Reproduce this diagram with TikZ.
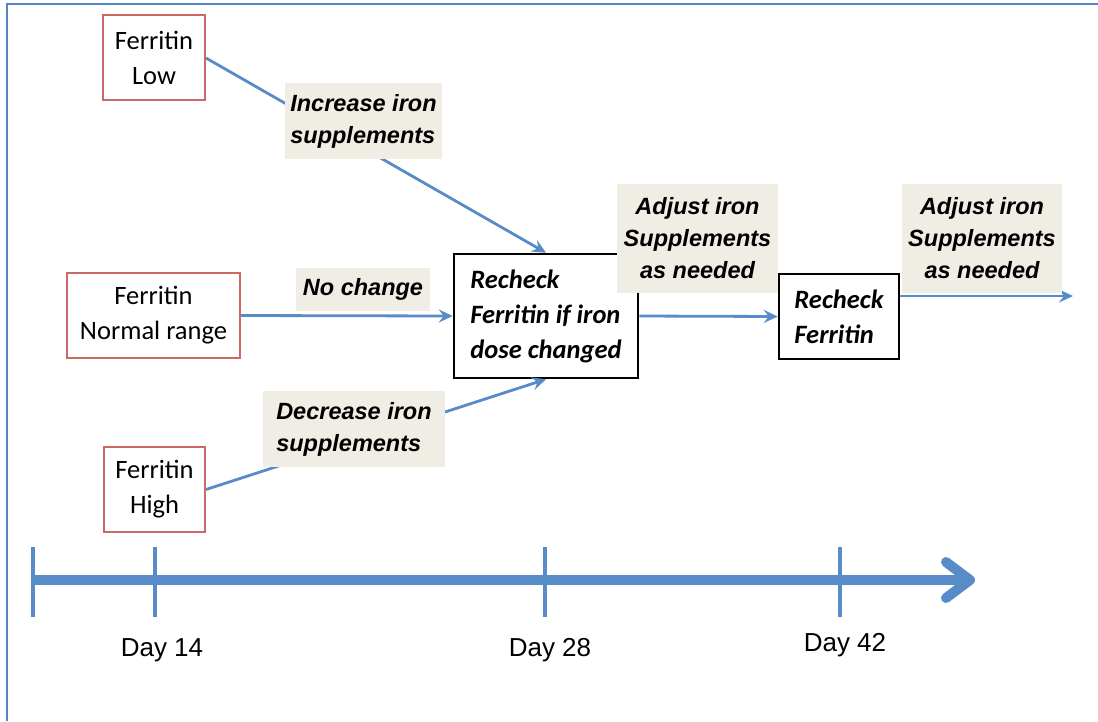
\documentclass[tikz,border=0pt]{standalone}
\usepackage{fontspec}
\setmainfont{Liberation Sans}
\newfontfamily\calfont{Carlito}
\newfontfamily\arifont{Liberation Sans}
\usetikzlibrary{arrows.meta}
\definecolor{lineblue}{RGB}{88,140,200}
\definecolor{framblue}{RGB}{84,132,196}
\definecolor{boxred}{RGB}{205,105,100}
\definecolor{labelbg}{RGB}{239,237,228}
\tikzset{
  ferr/.style={draw=boxred, line width=2pt, fill=white, align=center, inner sep=0pt,
    font=\calfont\fontsize{26.5}{35}\selectfont},
  lab/.style={fill=labelbg, inner sep=0pt, font=\arifont\bfseries\itshape\fontsize{23.5}{32}\selectfont},
  recheck/.style={draw=black, line width=2.5pt, fill=white, align=left, inner sep=0pt,
    font=\calfont\bfseries\itshape\fontsize{26.5}{35}\selectfont},
  conn/.style={draw=lineblue, line width=2.8pt, -{Stealth[length=14pt,width=13pt,inset=5pt]}},
  day/.style={font=\arifont\fontsize{26}{30}\selectfont, inner sep=0pt}
}
\begin{document}
\begin{tikzpicture}[x=1pt,y=-1pt]
\useasboundingbox (0,0) rectangle (1098,721);
\fill[white] (0,0) rectangle (1098,721);
% frame
\draw[framblue, line width=2pt] (7,721) -- (7,4) -- (1098,4);

% nodes
\node[ferr, minimum width=102pt, minimum height=85pt] (low) at (154,57.5) {Ferritin\\Low};
\node[ferr, minimum width=173pt, minimum height=85pt] (normal) at (153.5,315.5) {Ferritin\\Normal range};
\node[ferr, minimum width=101pt, minimum height=85pt] (high) at (154.5,489.5) {Ferritin\\High};
\node[recheck, minimum width=184pt, minimum height=124pt] (r1) at (546,316) {Recheck\\Ferritin if iron\\dose changed};
\node[recheck, minimum width=120pt, minimum height=85pt] (r2) at (839,316.5) {Recheck\\Ferritin};
\coordinate (end) at (1073,296);

% connectors
\draw[conn] (low.east |- 0,58) -- (r1.north);
\draw[conn] (normal.east) -- (r1.west);
\draw[conn] (high.east) -- (r1.south);
\draw[conn] (r1.east) -- (r2.west);
\draw[conn] (r2.east |- end) -- (end);

% labels
\node[lab, align=left, minimum width=157pt, minimum height=76pt] (inc) at (363.5,121) {Increase iron\\supplements};
\node[lab, align=center, minimum width=134pt, minimum height=43pt] (noch) at (363,289.5) {No change};
\node[lab, align=left, minimum width=182pt, minimum height=76pt] (dec) at (354,429) {Decrease iron\\supplements};
\node[lab, align=center, minimum width=161pt, minimum height=109pt] (adj1) at (697.5,238.5) {Adjust iron\\Supplements\\as needed};
\node[lab, align=center, minimum width=160pt, minimum height=109pt] (adj2) at (982,238.5) {Adjust iron\\Supplements\\as needed};

% timeline
\draw[lineblue, line width=10pt] (33,580) -- (966,580);
\draw[lineblue, line width=10pt, line cap=round, line join=round] (946,562) -- (970,580) -- (946,598);
\foreach \x in {33,155,545,840}{
  \draw[lineblue, line width=4pt] (\x,547) -- (\x,617);
}
\node[day] (d14) at (162,650) {Day 14};
\node[day] (d28) at (550,650) {Day 28};
\node[day] (d42) at (845,645) {Day 42};
\end{tikzpicture}
\end{document}
